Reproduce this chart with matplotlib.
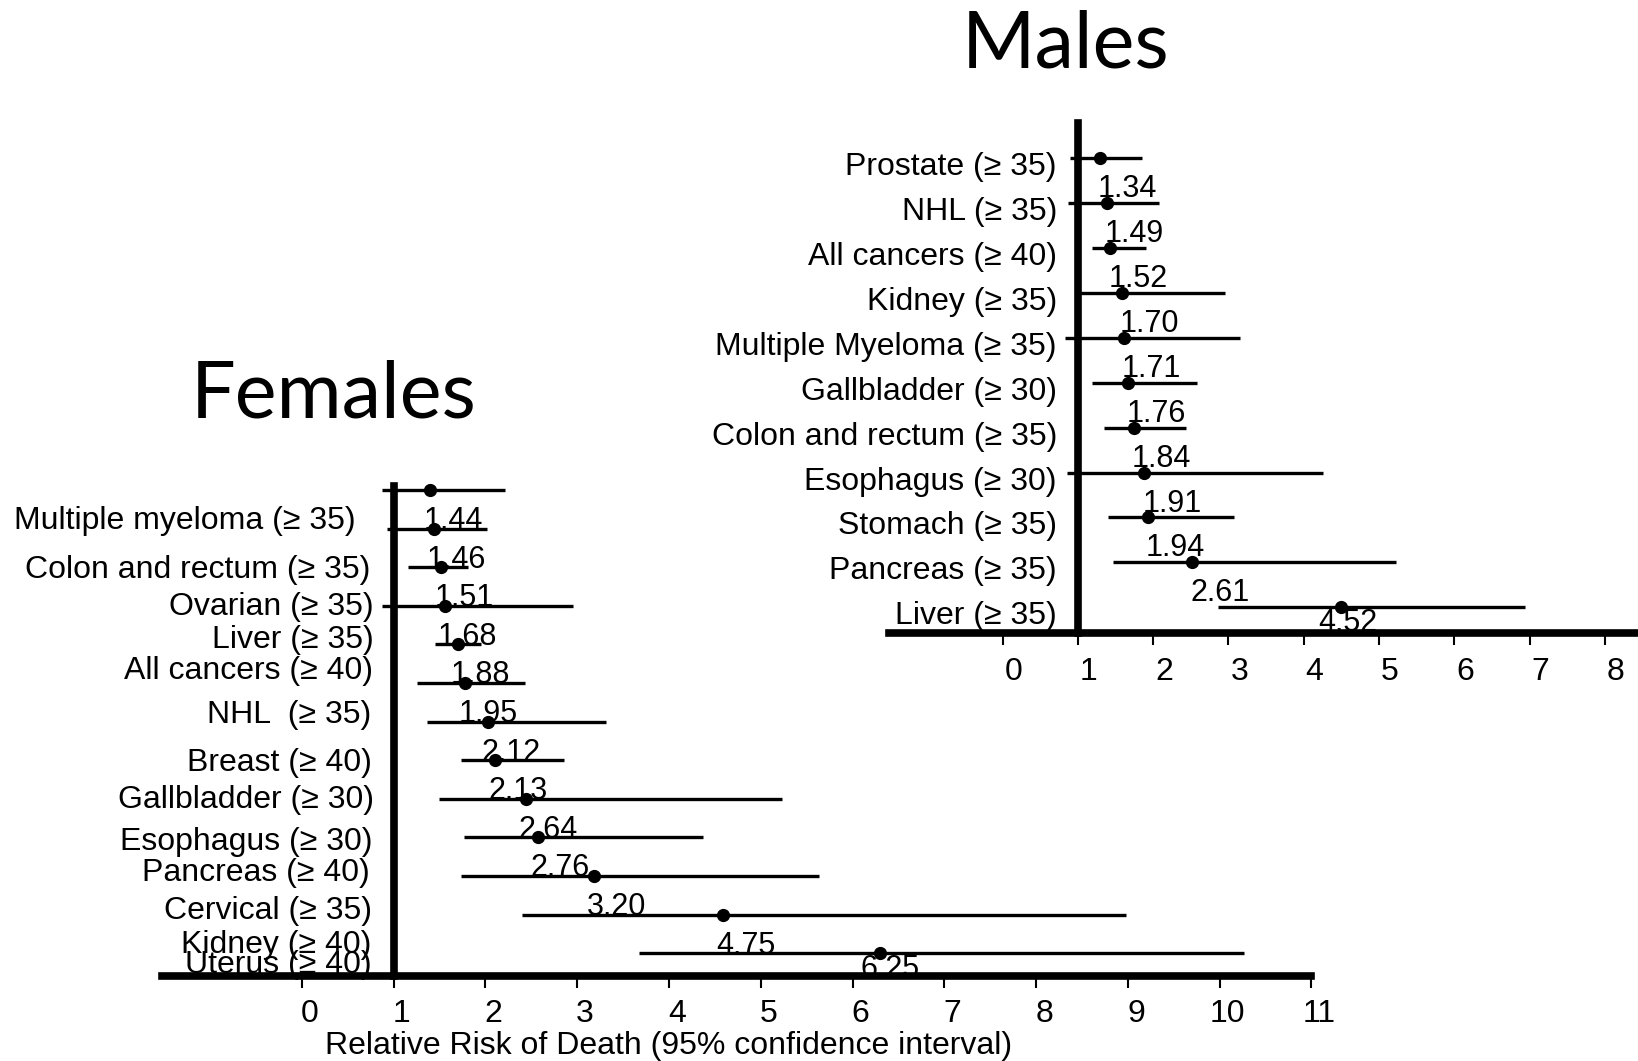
import numpy as np
import matplotlib.pyplot as plt
import matplotlib.transforms as mtransforms

plt.rcParams['font.family'] = ['Liberation Sans', 'DejaVu Sans']

# males, top to bottom
male_sites = ['Prostate (≥ 35)', 'NHL (≥ 35)', 'All cancers (≥ 40)', 'Kidney (≥ 35)',
              'Multiple Myeloma (≥ 35)', 'Gallbladder (≥ 30)', 'Colon and rectum (≥ 35)',
              'Esophagus (≥ 30)', 'Stomach (≥ 35)', 'Pancreas (≥ 35)', 'Liver (≥ 35)']
male_rr = [1.29, 1.38, 1.43, 1.58, 1.61, 1.67, 1.74, 1.88, 1.93, 2.52, 4.50]
male_lo = [0.89, 0.87, 1.19, 1.03, 0.83, 1.19, 1.35, 0.86, 1.40, 1.47, 2.86]
male_hi = [1.85, 2.08, 1.90, 2.95, 3.15, 2.58, 2.43, 4.25, 3.07, 5.22, 6.94]
male_text = ['1.34', '1.49', '1.52', '1.70', '1.71', '1.76', '1.84', '1.91', '1.94', '2.61', '4.52']

# females, top to bottom
female_sites = ['Multiple myeloma (≥ 35)', 'Colon and rectum (≥ 35)', 'Ovarian (≥ 35)',
                'Liver (≥ 35)', 'All cancers (≥ 40)', 'NHL  (≥ 35)', 'Breast (≥ 40)',
                'Gallbladder (≥ 30)', 'Esophagus (≥ 30)', 'Pancreas (≥ 40)',
                'Cervical (≥ 35)', 'Kidney (≥ 40)', 'Uterus (≥ 40)']
female_rr = [1.40, 1.44, 1.52, 1.56, 1.70, 1.78, 2.03, 2.11, 2.44, 2.57, 3.18, 4.59, 6.30]
female_lo = [0.87, 0.93, 1.16, 0.87, 1.45, 1.26, 1.36, 1.73, 1.50, 1.77, 1.73, 2.40, 3.67]
female_hi = [2.21, 2.02, 1.81, 2.96, 1.95, 2.43, 3.32, 2.86, 5.23, 4.37, 5.64, 8.98, 10.26]
female_text = ['1.44', '1.46', '1.51', '1.68', '1.88', '1.95', '2.12', '2.13', '2.64',
               '2.76', '3.20', '4.75', '6.25']

# the female site names do not sit on their rows in the original slide
female_name_rows = [0.73, 1.99, 2.95, 3.80, 4.62, 5.74, 6.99, 7.95, 9.05, 9.84, 10.84, 11.70, 12.22]
female_name_dx = [-38, -23, -20, -20, -21, -22, -22, -20, -21, -24, -22, -22, -22]

W, H = 1638, 1061
fig = plt.figure(figsize=(W / 100, H / 100), dpi=100)


def px_axes(left, top, right, bottom):
    return fig.add_axes([left / W, 1 - bottom / H, (right - left) / W, (bottom - top) / H])


def forest(ax, rr, lo, hi, text, xmax, label_dx, last_dx, shift):
    rows = np.arange(len(rr))
    ax.hlines(rows, lo, hi, color='black', lw=2.4, clip_on=False, zorder=2)
    ax.plot(rr, rows, 'o', color='black', ms=8.5, clip_on=False, zorder=3)
    n = len(rr)
    for i in range(n):
        if i < n - 1:
            ax.annotate(text[i], (rr[i], i), xytext=(label_dx, -31), textcoords='offset pixels',
                        ha='left', va='center', fontsize=22, zorder=3)
        else:
            ax.annotate(text[i], (rr[i], i), xytext=(last_dx, -16), textcoords='offset pixels',
                        ha='center', va='center', fontsize=22, zorder=3)
    for s in ['top', 'right']:
        ax.spines[s].set_visible(False)
    ax.spines['left'].set_position(('data', 1))
    ax.spines['left'].set_linewidth(5.5)
    ax.spines['bottom'].set_linewidth(5.5)
    ax.spines['left'].set_zorder(5)
    ax.spines['bottom'].set_zorder(5)
    ax.set_yticks([])
    ax.set_xticks(range(0, xmax + 1))
    ax.tick_params(axis='x', length=8.6, width=1.5, labelsize=23, pad=8.5)
    ax.patch.set_visible(False)
    off = mtransforms.ScaledTranslation(shift / 100, 0, fig.dpi_scale_trans)
    for lab in ax.get_xticklabels():
        lab.set_transform(lab.get_transform() + off)


# Males panel
ax_m = px_axes(889, 122.8, 1638, 632.9)
ax_m.set_xlim(-1.51, 8.44)
ax_m.set_ylim(10.57, -0.79)
forest(ax_m, male_rr, male_lo, male_hi, male_text, 8, -2, 6, 10.7)
for i, name in enumerate(male_sites):
    ax_m.annotate(name, (1, i), xytext=(-21, -9), textcoords='offset pixels',
                  ha='right', va='center', fontsize=23)

# Females panel
ax_f = px_axes(162.2, 486.1, 1311.5, 975.6)
ax_f.set_xlim(-1.52, 11)
ax_f.set_ylim(12.58, -0.1)
forest(ax_f, female_rr, female_lo, female_hi, female_text, 11, -7, 10, 8)
for i, name in enumerate(female_sites):
    ax_f.annotate(name, (1, female_name_rows[i]), xytext=(female_name_dx[i], -3),
                  textcoords='offset pixels', ha='right', va='center', fontsize=23)

ax_f.set_xlabel('Relative Risk of Death (95% confidence interval)', fontsize=23, va='center')
ax_f.xaxis.set_label_coords((668.6 - 162.2) / 1149.3, -(1046 - 975.6) / 489.5)

fig.text(1065.6 / W, 1 - 45 / H, 'Males', ha='center', va='center',
         fontsize=57, family=['Lato', 'DejaVu Sans'])
fig.text(334 / W, 1 - 396 / H, 'Females', ha='center', va='center',
         fontsize=57, family=['Lato', 'DejaVu Sans'])

fig.savefig('out.png', dpi=100)
